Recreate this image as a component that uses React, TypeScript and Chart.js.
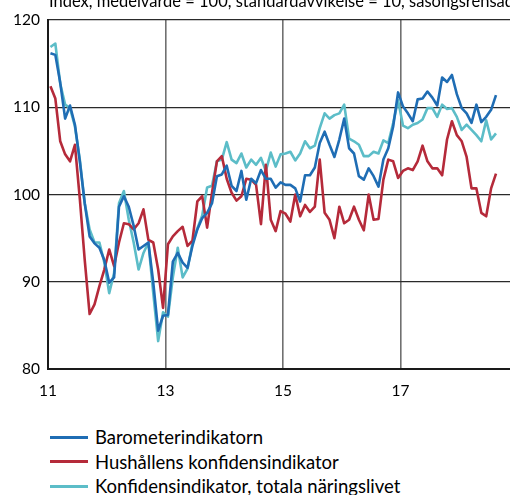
import { useEffect, useRef } from 'react';
import { Chart, registerables } from 'chart.js';

Chart.register(...registerables);

const startYear = 11;
const tickLabels = ['11', '13', '15', '17'];
const seriesNames = [
  'Barometerindikatorn',
  'Hushållens konfidensindikator',
  'Konfidensindikator, totala näringslivet',
];
const seriesColors = ['#1f6db4', '#b52a3a', '#5cbdc8'];
const subtitle = 'Index, medelvärde = 100, standardavvikelse = 10, säsongsrensade data';

const barometer = [
  116.2, 116.0, 112.8, 108.7, 110.2, 108.0, 103.8, 99.0, 95.2, 94.4, 93.9, 92.5,
  89.9, 90.5, 98.6, 99.8, 98.6, 96.4, 93.7, 94.1, 94.5, 89.9, 84.4, 86.1,
  86.2, 92.3, 93.3, 92.2, 91.6, 94.1, 96.0, 97.3, 97.9, 99.0, 102.1, 102.3,
  103.3, 101.0, 100.4, 102.7, 99.4, 101.8, 101.3, 102.8, 101.8, 101.8, 100.8, 101.4,
  101.1, 101.1, 100.7, 99.2, 102.2, 102.2, 103.1, 105.9, 107.2, 105.7, 104.3, 106.3,
  108.7, 105.3, 104.7, 102.1, 101.7, 103.0, 102.1, 100.9, 104.0, 105.3, 107.8, 111.7,
  110.1, 109.3, 108.4, 110.9, 111.0, 111.8, 111.1, 110.2, 113.4, 112.9, 113.7, 111.5,
  109.9, 109.3, 108.2, 110.3, 108.3, 108.9, 109.7, 111.4,
];

const hushall = [
  112.4, 111.0, 106.1, 104.6, 103.8, 105.7, 99.5, 92.5, 86.3, 87.4, 89.5, 91.4,
  93.7, 91.8, 94.5, 96.7, 96.6, 96.0, 96.7, 98.3, 94.8, 94.5, 91.4, 87.0,
  94.3, 95.2, 95.8, 96.3, 94.1, 94.7, 99.2, 99.8, 96.2, 100.2, 103.8, 104.4,
  101.8, 100.2, 99.3, 99.8, 101.8, 101.7, 101.1, 96.6, 103.4, 97.1, 95.8, 98.1,
  97.8, 96.9, 100.0, 97.5, 98.8, 98.0, 98.6, 104.0, 97.9, 97.1, 95.0, 98.6,
  96.7, 97.1, 98.6, 97.1, 95.9, 100.0, 97.1, 97.2, 101.7, 104.0, 103.8, 101.9,
  102.7, 103.0, 102.8, 103.8, 105.6, 103.8, 103.0, 103.0, 102.2, 106.3, 108.4, 106.8,
  106.1, 104.3, 100.7, 100.7, 97.9, 97.5, 100.7, 102.4,
];

const naringsliv = [
  116.9, 117.3, 112.7, 110.3, 109.9, 107.8, 104.0, 99.0, 96.0, 94.5, 94.5, 92.2,
  88.7, 91.0, 99.0, 100.4, 97.1, 94.5, 91.4, 93.3, 94.5, 88.7, 83.2, 86.5,
  86.0, 90.5, 93.9, 90.5, 91.5, 94.4, 96.1, 97.6, 100.8, 101.0, 103.8, 104.0,
  106.0, 104.0, 103.6, 104.7, 103.1, 104.0, 103.4, 104.2, 102.7, 104.8, 103.2, 104.6,
  104.7, 104.9, 103.9, 104.7, 106.1, 105.3, 105.6, 107.6, 109.3, 108.7, 109.1, 109.3,
  110.3, 106.4, 106.1, 105.7, 104.4, 104.4, 104.9, 104.7, 106.2, 105.9, 108.2, 110.8,
  107.9, 107.6, 108.0, 108.2, 108.6, 109.9, 109.9, 108.9, 110.3, 109.8, 109.9, 108.9,
  107.4, 108.0, 107.4, 106.8, 106.1, 108.5, 106.3, 107.0,
];

const allSeries = [barometer, hushall, naringsliv];
const FONT = 'Lato, "Open Sans", sans-serif';

const subtitlePlugin = {
  id: 'subtitleTop',
  afterDraw(chart: any) {
    const ctx = chart.ctx;
    ctx.save();
    ctx.fillStyle = '#000';
    ctx.font = `16.5px ${FONT}`;
    ctx.textAlign = 'left';
    ctx.textBaseline = 'alphabetic';
    ctx.fillText(subtitle, chart.chartArea.left + 1, 7);
    ctx.restore();
  },
};

export default function App() {
  const ref = useRef<HTMLCanvasElement>(null);

  useEffect(() => {
    const toPts = (arr: number[]) => arr.map((v, i) => ({ x: i + 0.5, y: v }));
    const chart = new Chart(ref.current as HTMLCanvasElement, {
      type: 'line',
      data: {
        datasets: allSeries.map((s, k) => ({
          label: seriesNames[k],
          data: toPts(s),
          borderColor: seriesColors[k],
          backgroundColor: seriesColors[k],
          borderWidth: 2.6,
          pointRadius: 0,
          tension: 0,
          borderJoinStyle: 'round' as const,
        })),
      },
      options: {
        animation: false,
        responsive: false,
        layout: { padding: { top: 20, left: 0, right: 0, bottom: 0 } },
        plugins: {
          legend: { display: false },
          tooltip: { enabled: false },
        },
        scales: {
          x: {
            type: 'linear',
            min: 0,
            max: 94.36,
            afterBuildTicks: (scale: any) => {
              scale.ticks = tickLabels.map((l) => ({ value: (parseInt(l, 10) - startYear) * 12 }));
            },
            afterFit: (scale: any) => {
              scale.height = 31;
            },
            ticks: {
              autoSkip: false,
              maxRotation: 0,
              padding: 13,
              color: '#000',
              font: { family: FONT, size: 15.5 },
              callback: (v: any) => {
                const idx = tickLabels.findIndex((l) => (parseInt(l, 10) - startYear) * 12 === v);
                return idx >= 0 ? tickLabels[idx] : '';
              },
            },
            grid: {
              drawTicks: false,
              color: (ctx: any) => (ctx.tick && ctx.tick.value === 0 ? 'rgba(0,0,0,0)' : '#707070'),
              lineWidth: 1.6,
            },
            border: { display: true, color: '#1a1a1a', width: 2 },
          },
          y: {
            min: 80,
            max: 120,
            afterFit: (scale: any) => {
              scale.width = 48;
            },
            ticks: {
              stepSize: 10,
              padding: 8,
              color: '#000',
              font: { family: FONT, size: 15.5 },
            },
            grid: {
              drawTicks: false,
              color: (ctx: any) => (ctx.tick && ctx.tick.value === 80 ? 'rgba(0,0,0,0)' : '#2a2a2a'),
              lineWidth: 1.3,
            },
            border: { display: true, color: '#1a1a1a', width: 2 },
          },
        },
      },
      plugins: [subtitlePlugin],
    });
    return () => chart.destroy();
  }, []);

  return (
    <div style={{ position: 'fixed', top: 0, left: 0, width: 510, height: 495, background: '#fff', overflow: 'hidden' }}>
      <canvas ref={ref} width={510} height={400} style={{ display: 'block', width: 510, height: 400 }} />
      {seriesNames.map((name, k) => (
        <div
          key={name}
          style={{
            position: 'absolute',
            left: 50,
            top: 425 + 24.5 * k,
            height: 24,
            display: 'flex',
            alignItems: 'center',
            fontFamily: FONT,
            fontSize: 18.5,
            color: '#000',
            whiteSpace: 'nowrap',
          }}
        >
          <span style={{ display: 'inline-block', width: 38, height: 3, background: seriesColors[k], marginRight: 7 }} />
          <span>{name}</span>
        </div>
      ))}
    </div>
  );
}
